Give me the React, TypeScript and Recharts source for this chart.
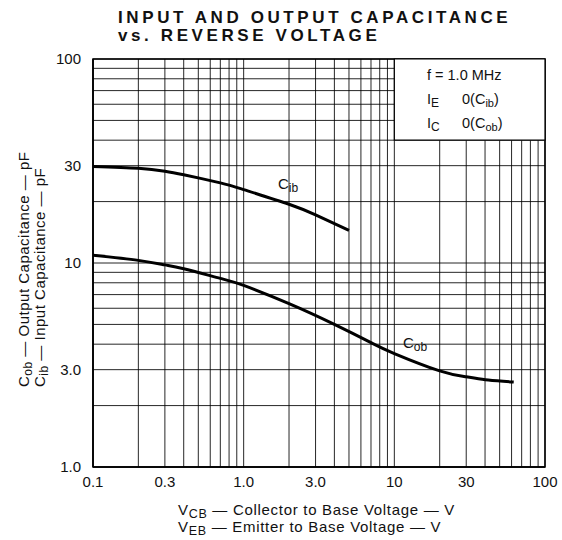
import React from "react";
import {
  ComposedChart,
  Line,
  XAxis,
  YAxis,
  CartesianGrid,
  ReferenceArea,
} from "recharts";

// ---- data ----
const xTicks = [
  0.1, 0.2, 0.3, 0.4, 0.5, 0.6, 0.7, 0.8, 0.9, 1, 2, 3, 4, 5, 6, 7, 8, 9, 10,
  20, 30, 40, 50, 60, 70, 80, 90, 100,
];
const xTickLabels: Record<string, string> = {
  "0.1": "0.1",
  "0.3": "0.3",
  "1": "1.0",
  "3": "3.0",
  "10": "10",
  "30": "30",
  "100": "100",
};
const yTicks = [
  1, 2, 3, 4, 5, 6, 7, 8, 9, 10, 20, 30, 40, 50, 60, 70, 80, 90, 100,
];
const yTickLabels: Record<string, string> = {
  "1": "1.0",
  "3": "3.0",
  "10": "10",
  "30": "30",
  "100": "100",
};

const cibVoltage = [0.1, 0.2, 0.3, 0.4, 0.7, 1.0, 2.0, 3.0, 5.0];
const cibCap = [29.7, 29.1, 28.2, 27.1, 24.7, 22.9, 19.4, 17.2, 14.45];

const cobVoltage = [0.1, 0.2, 0.3, 0.4, 0.7, 1.0, 2.0, 4.0, 7.0, 10, 20, 30, 42, 62];
const cobCap = [10.9, 10.3, 9.79, 9.37, 8.41, 7.76, 6.32, 5.0, 4.07, 3.6, 2.96, 2.77, 2.67, 2.61];

const cibData = cibVoltage.map((v, i) => ({ v, c: cibCap[i] }));
const cobData = cobVoltage.map((v, i) => ({ v, c: cobCap[i] }));

const FONT = "'Liberation Sans', Arial, sans-serif";
const INK = "#111";

export default function App() {
  return (
    <div style={{ position: "absolute", left: 0, top: 0, width: 562, height: 540, background: "#fff" }}>
      <ComposedChart
        width={562}
        height={540}
        margin={{ top: 59, right: 17, bottom: 43, left: 33 }}
        style={{ position: "absolute", left: 0, top: 0 }}
      >
        <CartesianGrid stroke="#000" strokeOpacity={0.85} strokeWidth={1} />
        <XAxis
          type="number"
          dataKey="v"
          scale="log"
          domain={[0.1, 100]}
          ticks={xTicks}
          allowDataOverflow
          interval={0}
          height={30}
          tickLine={false}
          tickMargin={3}
          axisLine={{ stroke: "#000", strokeWidth: 1.5 }}
          tickFormatter={(t: number) => xTickLabels[String(t)] ?? ""}
          tick={{ fill: INK, fontSize: 15, fontFamily: FONT }}
        />
        <YAxis
          type="number"
          dataKey="c"
          scale="log"
          domain={[1, 100]}
          ticks={yTicks}
          allowDataOverflow
          interval={0}
          width={60}
          tickLine={false}
          tickMargin={6}
          axisLine={{ stroke: "#000", strokeWidth: 1.5 }}
          tickFormatter={(t: number) => yTickLabels[String(t)] ?? ""}
          tick={{ fill: INK, fontSize: 15, fontFamily: FONT }}
        />
        <ReferenceArea
          x1={0.1}
          x2={100}
          y1={1}
          y2={100}
          fill="none"
          stroke="#000"
          strokeWidth={1.5}
        />
        <ReferenceArea
          x1={10}
          x2={100}
          y1={40}
          y2={100}
          fill="#fff"
          fillOpacity={1}
          stroke="#000"
          strokeWidth={1.2}
        />
        <Line
          data={cibData}
          dataKey="c"
          type="natural"
          stroke="#000"
          strokeWidth={3}
          dot={false}
          isAnimationActive={false}
        />
        <Line
          data={cobData}
          dataKey="c"
          type="natural"
          stroke="#000"
          strokeWidth={3}
          dot={false}
          isAnimationActive={false}
        />
      </ComposedChart>

      <svg
        width={562}
        height={540}
        style={{ position: "absolute", left: 0, top: 0, pointerEvents: "none" }}
        fontFamily={FONT}
        fill={INK}
      >
        {/* title */}
        <text x={118} y={23} fontSize={17} fontWeight="bold" letterSpacing={3.6}>
          INPUT AND OUTPUT CAPACITANCE
        </text>
        <text x={118} y={41} fontSize={17} fontWeight="bold" letterSpacing={3.6}>
          vs. REVERSE VOLTAGE
        </text>

        {/* legend text */}
        <text x={427} y={80} fontSize={14.5}>f = 1.0 MHz</text>
        <text x={427} y={104} fontSize={14.5}>
          I<tspan fontSize={12} dy={3}>E</tspan>
          <tspan x={462} dy={-3}>0(C</tspan>
          <tspan fontSize={11} dy={3}>ib</tspan>
          <tspan dy={-3}>)</tspan>
        </text>
        <text x={427} y={128} fontSize={14.5}>
          I<tspan fontSize={12} dy={3}>C</tspan>
          <tspan x={462} dy={-3}>0(C</tspan>
          <tspan fontSize={11} dy={3}>ob</tspan>
          <tspan dy={-3}>)</tspan>
        </text>

        {/* curve labels */}
        <text x={278} y={189} fontSize={15}>
          C<tspan fontSize={12} dy={3}>ib</tspan>
        </text>
        <text x={403} y={348} fontSize={15}>
          C<tspan fontSize={12} dy={3}>ob</tspan>
        </text>

        {/* x axis title */}
        <text x={178} y={515} fontSize={15} letterSpacing={0.7}>
          V<tspan fontSize={12.5} dy={3}>CB</tspan>
          <tspan dy={-3}> — Collector to Base Voltage — V</tspan>
        </text>
        <text x={178} y={532} fontSize={15} letterSpacing={0.7}>
          V<tspan fontSize={12.5} dy={3}>EB</tspan>
          <tspan dy={-3}> — Emitter to Base Voltage — V</tspan>
        </text>

        {/* y axis title */}
        <text transform="translate(29,387) rotate(-90)" fontSize={15} letterSpacing={0.5}>
          C<tspan fontSize={12} dy={3}>ob</tspan>
          <tspan dy={-3}> — Output Capacitance — pF</tspan>
        </text>
        <text transform="translate(45,387) rotate(-90)" fontSize={15} letterSpacing={0.5}>
          C<tspan fontSize={12} dy={3}>ib</tspan>
          <tspan dy={-3}> — Input Capacitance — pF</tspan>
        </text>
      </svg>
    </div>
  );
}
